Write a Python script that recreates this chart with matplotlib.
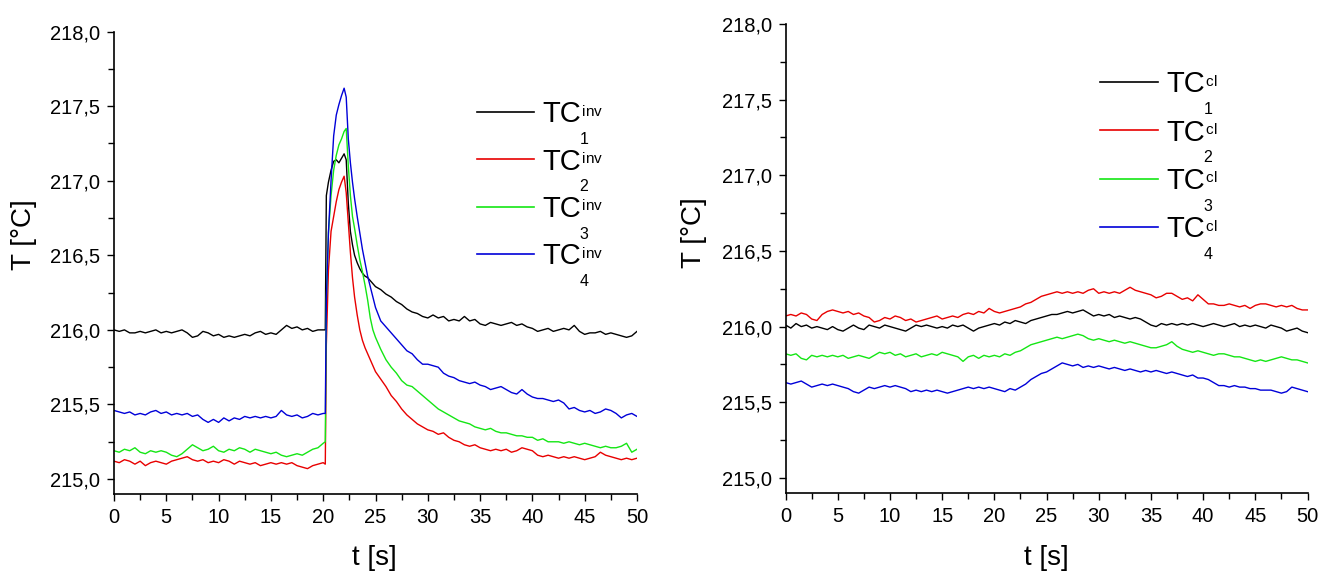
import matplotlib
matplotlib.use("Agg")
import matplotlib.pyplot as plt
from matplotlib.lines import Line2D
from matplotlib.ticker import MultipleLocator, FuncFormatter

plt.rcParams['font.family'] = ['Liberation Sans', 'DejaVu Sans']

# ---------------- data: left panel (TC^inv) ----------------
t_left = [0, 0.5, 1, 1.5, 2, 2.5, 3, 3.5, 4, 4.5, 5, 5.5, 6, 6.5, 7, 7.5, 8, 8.5, 9, 9.5,
          10, 10.5, 11, 11.5, 12, 12.5, 13, 13.5, 14, 14.5, 15, 15.5, 16, 16.5, 17, 17.5, 18, 18.5, 19, 19.5, 20,
          20.2, 20.3, 20.5, 20.75, 21, 21.25, 21.5, 21.75, 22, 22.2, 22.4, 22.6, 22.8, 23, 23.25, 23.5, 23.75,
          24, 24.25, 24.5, 24.75,
          25, 25.5, 26, 26.5, 27, 27.5, 28, 28.5, 29, 29.5, 30, 30.5, 31, 31.5, 32, 32.5, 33, 33.5, 34, 34.5,
          35, 35.5, 36, 36.5, 37, 37.5, 38, 38.5, 39, 39.5, 40, 40.5, 41, 41.5, 42, 42.5, 43, 43.5, 44, 44.5,
          45, 45.5, 46, 46.5, 47, 47.5, 48, 48.5, 49, 49.5, 50]

inv1 = [216.00, 215.99, 216.00, 215.98, 215.98, 215.99, 215.98, 215.99, 216.00, 215.98,
        215.99, 215.98, 215.99, 216.00, 215.98, 215.95, 215.96, 215.99, 215.98, 215.96,
        215.97, 215.95, 215.96, 215.95, 215.96, 215.97, 215.96, 215.98, 215.99, 215.97,
        215.98, 215.97, 216.00, 216.03, 216.01, 216.02, 216.00, 216.01, 215.99, 216.00,
        216.00,
        216.00, 216.90, 216.99, 217.07, 217.13, 217.14, 217.12, 217.15, 217.18, 217.14,
        216.85, 216.66, 216.57, 216.50, 216.45, 216.41, 216.38, 216.36, 216.35, 216.33, 216.31,
        216.29, 216.27, 216.24, 216.22, 216.19, 216.17, 216.14, 216.12, 216.11, 216.09,
        216.08, 216.10, 216.08, 216.09, 216.06, 216.07, 216.06, 216.09, 216.06, 216.07,
        216.04, 216.03, 216.05, 216.04, 216.03, 216.04, 216.05, 216.03, 216.04, 216.02,
        216.01, 215.99, 216.00, 216.01, 215.99, 216.00, 216.01, 216.00, 216.03, 215.99,
        215.97, 215.98, 215.98, 215.99, 215.97, 215.98, 215.97, 215.96, 215.95, 215.96,
        215.99]

inv2 = [215.12, 215.11, 215.13, 215.12, 215.10, 215.12, 215.09, 215.11, 215.12, 215.11,
        215.10, 215.12, 215.13, 215.14, 215.15, 215.13, 215.12, 215.13, 215.11, 215.12,
        215.11, 215.13, 215.12, 215.10, 215.12, 215.11, 215.10, 215.11, 215.09, 215.10,
        215.11, 215.10, 215.11, 215.10, 215.11, 215.09, 215.08, 215.07, 215.09, 215.10,
        215.11,
        215.10, 215.90, 216.40, 216.66, 216.76, 216.86, 216.94, 216.99, 217.03, 216.92,
        216.72, 216.52, 216.35, 216.22, 216.10, 216.00, 215.93, 215.88, 215.84, 215.80, 215.76,
        215.72, 215.67, 215.62, 215.56, 215.52, 215.47, 215.43, 215.40, 215.37, 215.35,
        215.33, 215.32, 215.30, 215.31, 215.28, 215.26, 215.25, 215.23, 215.22, 215.23,
        215.21, 215.20, 215.19, 215.20, 215.19, 215.20, 215.18, 215.19, 215.21, 215.20,
        215.19, 215.16, 215.15, 215.16, 215.15, 215.14, 215.15, 215.14, 215.15, 215.14,
        215.13, 215.14, 215.15, 215.18, 215.16, 215.15, 215.14, 215.13, 215.14, 215.13,
        215.14]

inv3 = [215.19, 215.18, 215.20, 215.19, 215.21, 215.18, 215.17, 215.19, 215.18, 215.19,
        215.18, 215.16, 215.15, 215.17, 215.20, 215.23, 215.21, 215.19, 215.20, 215.22,
        215.19, 215.18, 215.20, 215.19, 215.21, 215.20, 215.18, 215.20, 215.19, 215.18,
        215.17, 215.18, 215.16, 215.15, 215.16, 215.17, 215.16, 215.18, 215.20, 215.21,
        215.24,
        215.25, 216.20, 216.65, 216.90, 217.07, 217.17, 217.24, 217.28, 217.33, 217.35,
        217.10, 216.90, 216.76, 216.68, 216.57, 216.47, 216.39, 216.30, 216.20, 216.08, 216.00,
        215.95, 215.87, 215.80, 215.75, 215.71, 215.66, 215.63, 215.62, 215.59, 215.56,
        215.53, 215.50, 215.47, 215.45, 215.43, 215.41, 215.39, 215.38, 215.37, 215.35,
        215.34, 215.33, 215.34, 215.32, 215.31, 215.31, 215.30, 215.29, 215.29, 215.28,
        215.28, 215.26, 215.27, 215.25, 215.25, 215.25, 215.24, 215.25, 215.24, 215.23,
        215.24, 215.23, 215.22, 215.21, 215.22, 215.21, 215.21, 215.22, 215.24, 215.18,
        215.20]

inv4 = [215.46, 215.45, 215.44, 215.45, 215.43, 215.44, 215.43, 215.45, 215.46, 215.44,
        215.45, 215.43, 215.44, 215.43, 215.44, 215.42, 215.43, 215.40, 215.38, 215.40,
        215.38, 215.41, 215.39, 215.41, 215.40, 215.42, 215.41, 215.42, 215.41, 215.42,
        215.41, 215.42, 215.46, 215.43, 215.42, 215.43, 215.41, 215.42, 215.44, 215.43,
        215.44,
        215.44, 216.20, 216.65, 217.00, 217.30, 217.44, 217.51, 217.57, 217.62, 217.56,
        217.28, 217.12, 216.99, 216.88, 216.76, 216.65, 216.54, 216.45, 216.36, 216.29, 216.22,
        216.15, 216.06, 216.02, 215.98, 215.94, 215.90, 215.86, 215.84, 215.80, 215.77,
        215.77, 215.76, 215.75, 215.71, 215.69, 215.68, 215.66, 215.65, 215.64, 215.65,
        215.63, 215.62, 215.60, 215.61, 215.62, 215.60, 215.58, 215.57, 215.60, 215.57,
        215.55, 215.54, 215.54, 215.53, 215.52, 215.53, 215.51, 215.47, 215.48, 215.46,
        215.45, 215.46, 215.44, 215.45, 215.47, 215.46, 215.44, 215.41, 215.43, 215.44,
        215.42]

# ---------------- data: right panel (TC^cl) ----------------
t_right = [0, 0.5, 1, 1.5, 2, 2.5, 3, 3.5, 4, 4.5, 5, 5.5, 6, 6.5, 7, 7.5, 8, 8.5, 9, 9.5,
           10, 10.5, 11, 11.5, 12, 12.5, 13, 13.5, 14, 14.5, 15, 15.5, 16, 16.5, 17, 17.5, 18, 18.5, 19, 19.5,
           20, 20.5, 21, 21.5, 22, 22.5, 23, 23.5, 24, 24.5, 25, 25.5, 26, 26.5, 27, 27.5, 28, 28.5, 29, 29.5,
           30, 30.5, 31, 31.5, 32, 32.5, 33, 33.5, 34, 34.5, 35, 35.5, 36, 36.5, 37, 37.5, 38, 38.5, 39, 39.5,
           40, 40.5, 41, 41.5, 42, 42.5, 43, 43.5, 44, 44.5, 45, 45.5, 46, 46.5, 47, 47.5, 48, 48.5, 49, 49.5,
           50]

cl1 = [216.01, 215.99, 216.02, 216.00, 216.01, 215.99, 216.00, 215.99, 215.98, 216.00,
       215.98, 215.97, 215.99, 216.01, 215.99, 215.98, 216.01, 216.00, 215.99, 216.01,
       216.00, 215.99, 215.98, 215.97, 215.99, 216.01, 216.00, 216.01, 216.00, 215.99,
       216.00, 215.99, 216.01, 216.00, 216.01, 215.99, 215.97, 215.99, 216.00, 216.01,
       216.02, 216.01, 216.03, 216.02, 216.04, 216.03, 216.02, 216.04, 216.05, 216.06,
       216.07, 216.08, 216.08, 216.09, 216.10, 216.09, 216.10, 216.11, 216.09, 216.07,
       216.08, 216.07, 216.08, 216.06, 216.07, 216.06, 216.05, 216.06, 216.05, 216.03,
       216.01, 216.00, 216.02, 216.01, 216.02, 216.01, 216.02, 216.01, 216.02, 216.01,
       216.00, 216.01, 216.02, 216.01, 216.00, 216.01, 216.02, 216.00, 216.01, 216.00,
       216.01, 216.00, 215.99, 216.01, 216.00, 215.99, 215.97, 215.98, 215.99, 215.97,
       215.96]

cl2 = [216.07, 216.08, 216.07, 216.09, 216.08, 216.05, 216.04, 216.08, 216.10, 216.11,
       216.10, 216.09, 216.10, 216.08, 216.09, 216.07, 216.06, 216.03, 216.04, 216.06,
       216.05, 216.07, 216.06, 216.04, 216.05, 216.03, 216.04, 216.05, 216.06, 216.07,
       216.05, 216.06, 216.07, 216.06, 216.08, 216.09, 216.08, 216.10, 216.09, 216.12,
       216.10, 216.09, 216.10, 216.11, 216.12, 216.13, 216.15, 216.16, 216.18, 216.20,
       216.21, 216.22, 216.23, 216.22, 216.23, 216.22, 216.23, 216.22, 216.24, 216.25,
       216.22, 216.23, 216.22, 216.23, 216.22, 216.24, 216.26, 216.24, 216.23, 216.22,
       216.21, 216.19, 216.20, 216.22, 216.22, 216.20, 216.18, 216.19, 216.17, 216.21,
       216.18, 216.15, 216.15, 216.14, 216.14, 216.15, 216.14, 216.13, 216.14, 216.12,
       216.14, 216.15, 216.15, 216.14, 216.13, 216.14, 216.13, 216.14, 216.12, 216.11,
       216.11]

cl3 = [215.82, 215.81, 215.82, 215.79, 215.78, 215.81, 215.80, 215.81, 215.80, 215.81,
       215.80, 215.81, 215.79, 215.80, 215.81, 215.80, 215.79, 215.81, 215.83, 215.82,
       215.83, 215.81, 215.82, 215.80, 215.81, 215.82, 215.80, 215.81, 215.82, 215.81,
       215.83, 215.82, 215.81, 215.80, 215.77, 215.80, 215.81, 215.79, 215.81, 215.80,
       215.81, 215.80, 215.82, 215.81, 215.83, 215.84, 215.86, 215.88, 215.89, 215.90,
       215.91, 215.92, 215.93, 215.92, 215.93, 215.94, 215.95, 215.94, 215.92, 215.91,
       215.92, 215.91, 215.90, 215.91, 215.90, 215.89, 215.90, 215.89, 215.88, 215.87,
       215.86, 215.86, 215.87, 215.88, 215.90, 215.87, 215.85, 215.84, 215.83, 215.84,
       215.83, 215.82, 215.81, 215.82, 215.82, 215.81, 215.80, 215.80, 215.79, 215.78,
       215.77, 215.78, 215.77, 215.78, 215.79, 215.80, 215.79, 215.78, 215.78, 215.77,
       215.76]

cl4 = [215.63, 215.62, 215.63, 215.64, 215.62, 215.60, 215.61, 215.62, 215.61, 215.62,
       215.61, 215.60, 215.59, 215.57, 215.56, 215.58, 215.60, 215.59, 215.60, 215.61,
       215.60, 215.61, 215.60, 215.59, 215.57, 215.58, 215.57, 215.58, 215.57, 215.58,
       215.57, 215.56, 215.57, 215.58, 215.59, 215.60, 215.59, 215.60, 215.59, 215.60,
       215.59, 215.58, 215.57, 215.59, 215.58, 215.60, 215.62, 215.65, 215.67, 215.69,
       215.70, 215.72, 215.74, 215.76, 215.75, 215.74, 215.75, 215.73, 215.74, 215.73,
       215.74, 215.73, 215.72, 215.73, 215.72, 215.71, 215.72, 215.71, 215.70, 215.71,
       215.70, 215.71, 215.70, 215.69, 215.70, 215.69, 215.68, 215.67, 215.68, 215.66,
       215.66, 215.65, 215.63, 215.61, 215.61, 215.60, 215.61, 215.60, 215.60, 215.59,
       215.59, 215.58, 215.58, 215.58, 215.57, 215.56, 215.57, 215.60, 215.59, 215.58,
       215.57]

colors = ['#000000', '#e80000', '#14e614', '#0000d8']
sub_labels = ['1', '2', '3', '4']
left_series = [inv1, inv2, inv3, inv4]
right_series = [cl1, cl2, cl3, cl4]

W, H = 1329, 577
fig = plt.figure(figsize=(W / 100, H / 100), dpi=100)

ax1 = fig.add_axes([114 / W, 1 - 494 / H, (637 - 114) / W, (494 - 31.5) / H])
ax2 = fig.add_axes([785.6 / W, 1 - 493 / H, (1307.5 - 785.6) / W, (493 - 24) / H])

comma = FuncFormatter(lambda v, _: f"{v:.1f}".replace('.', ','))

for ax, t, series in [(ax1, t_left, left_series), (ax2, t_right, right_series)]:
    for vals, c in zip(series, colors):
        ax.plot(t, vals, color=c, lw=1.0)
    ax.set_xlim(0, 50)
    ax.set_ylim(214.9, 218.0)
    ax.spines['top'].set_visible(False)
    ax.spines['right'].set_visible(False)
    for s in ('left', 'bottom'):
        ax.spines[s].set_linewidth(1.2)
    ax.xaxis.set_major_locator(MultipleLocator(5))
    ax.xaxis.set_minor_locator(MultipleLocator(2.5))
    ax.yaxis.set_major_locator(MultipleLocator(0.5))
    ax.yaxis.set_minor_locator(MultipleLocator(0.25))
    ax.yaxis.set_major_formatter(comma)
    ax.tick_params(which='major', direction='out', length=5, width=1, labelsize=14.5, pad=5)
    ax.tick_params(which='minor', direction='out', length=4, width=1)
    ax.set_xlabel('t [s]', fontsize=20)
    ax.set_ylabel('T [°C]', fontsize=20)

ax1.xaxis.set_label_coords(0.497, -0.11)
ax1.yaxis.set_label_coords(-0.148, 0.56)
ax2.xaxis.set_label_coords(0.499, -0.11)
ax2.yaxis.set_label_coords(-0.15, 0.555)


def draw_legend(ax, x0, x1, y_first, dy, sup, char_gap):
    for i, (c, n) in enumerate(zip(colors, sub_labels)):
        y = y_first + i * dy
        fig.add_artist(Line2D([x0 / W, x1 / W], [1 - y / H, 1 - y / H], color=c, lw=1.2))
        tc = fig.text((x1 + 8) / W, 1 - (y + 10.5) / H, 'TC', fontsize=21, va='baseline', ha='left')
        prev = tc
        for k, ch in enumerate(sup):
            prev = ax.annotate(ch, xy=(1, 1), xycoords=prev,
                               xytext=(0.8, -3) if k == 0 else (char_gap, 0),
                               textcoords='offset points', fontsize=11, va='top', ha='left',
                               annotation_clip=False)
        ax.annotate(n, xy=(1, 0), xycoords=tc, xytext=(-1, -2.5), textcoords='offset points',
                    fontsize=11.5, va='top', ha='left', annotation_clip=False)


draw_legend(ax1, 477, 534, 112, 47.3, 'inv', 0.0)
draw_legend(ax2, 1100, 1158, 82, 48.3, 'cl', 0.6)

fig.savefig('out.png', dpi=100)
